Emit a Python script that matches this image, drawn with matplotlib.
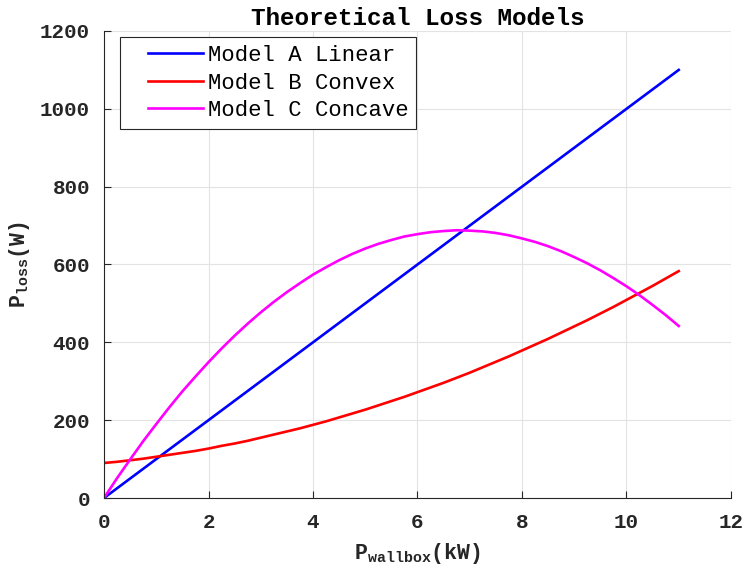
import matplotlib
matplotlib.use('Agg')
import matplotlib.pyplot as plt
from matplotlib.lines import Line2D
from matplotlib.legend_handler import HandlerLine2D

# wallbox power (kW) and the loss each model predicts (W)
p_wallbox_lin = [0, 11]
loss_linear = [0, 1100]

p_wallbox = [0, 0.25, 0.5, 0.75, 1, 1.25, 1.5, 1.75, 2, 2.25, 2.5, 2.75,
             3, 3.25, 3.5, 3.75, 4, 4.25, 4.5, 4.75, 5, 5.25, 5.5, 5.75,
             6, 6.25, 6.5, 6.75, 7, 7.25, 7.5, 7.75, 8, 8.25, 8.5, 8.75,
             9, 9.25, 9.5, 9.75, 10, 10.25, 10.5, 10.75, 11]
loss_convex = [90, 93, 97, 101, 106, 111, 116, 121, 127, 134, 140, 147,
               155, 163, 171, 179, 188, 197, 207, 217, 227, 238, 249, 260,
               272, 284, 296, 309, 322, 336, 350, 364, 379, 394, 409, 425,
               441, 457, 474, 491, 509, 527, 545, 564, 583]
loss_concave = [0, 51, 99, 146, 190, 233, 274, 312, 349, 384, 417, 448,
                477, 504, 529, 552, 574, 593, 611, 627, 641, 653, 663, 672,
                678, 683, 686, 688, 687, 685, 681, 675, 667, 658, 647, 634,
                619, 603, 585, 565, 544, 521, 496, 470, 442]

plt.rcParams['font.family'] = ['Liberation Mono', 'DejaVu Sans Mono']
plt.rcParams['mathtext.fontset'] = 'custom'
plt.rcParams['mathtext.rm'] = 'Liberation Mono:bold'
plt.rcParams['mathtext.it'] = 'Liberation Mono:bold'
plt.rcParams['mathtext.bf'] = 'Liberation Mono:bold'

fig = plt.figure(figsize=(7.45, 5.74), dpi=100)
ax = fig.add_axes([0.1396, 0.1324, 0.8416, 0.8136])

ax.plot(p_wallbox_lin, loss_linear, color='#0000ff', lw=1.9, label='Model A Linear')
ax.plot(p_wallbox, loss_convex, color='#ff0000', lw=1.9, label='Model B Convex')
ax.plot(p_wallbox, loss_concave, color='#ff00ff', lw=1.9, label='Model C Concave')

ax.set_xlim(0, 12)
ax.set_ylim(0, 1200)
ax.set_xticks(range(0, 13, 2))
ax.set_yticks(range(0, 1201, 200))
ax.grid(True, color='#e3e3e3', lw=0.8)
ax.set_axisbelow(True)

for side in ('top', 'right'):
    ax.spines[side].set_visible(False)
for side in ('left', 'bottom'):
    ax.spines[side].set_color('#262626')
    ax.spines[side].set_linewidth(0.8)
ax.tick_params(direction='in', length=5, width=0.8, color='#262626',
               labelsize=15)
ax.tick_params(axis='x', pad=11)
ax.tick_params(axis='y', pad=10)
for lab in ax.get_xticklabels() + ax.get_yticklabels():
    lab.set_fontweight('bold')
    lab.set_color('#262626')

ax.set_title('Theoretical Loss Models', fontsize=17.5, fontweight='bold', pad=4)
ax.set_xlabel(r'$\mathrm{P}_{\mathrm{wallbox}}$(kW)', fontsize=15.5,
              fontweight='bold', color='#262626', labelpad=6)
ax.set_ylabel(r'$\mathrm{P}_{\mathrm{loss}}$(W)', fontsize=15.5,
              fontweight='bold', color='#262626', labelpad=6)

leg = ax.legend(loc='upper left', fontsize=16, handlelength=3.4,
                handletextpad=0.2, labelspacing=0.3, borderpad=0.35,
                borderaxespad=0, fancybox=False, framealpha=1,
                bbox_to_anchor=(0.0255, 0.987),
                handler_map={Line2D: HandlerLine2D(xpad=0.9)})
leg.get_frame().set_edgecolor('#262626')
leg.get_frame().set_linewidth(0.8)

fig.savefig('out.png', dpi=100)
